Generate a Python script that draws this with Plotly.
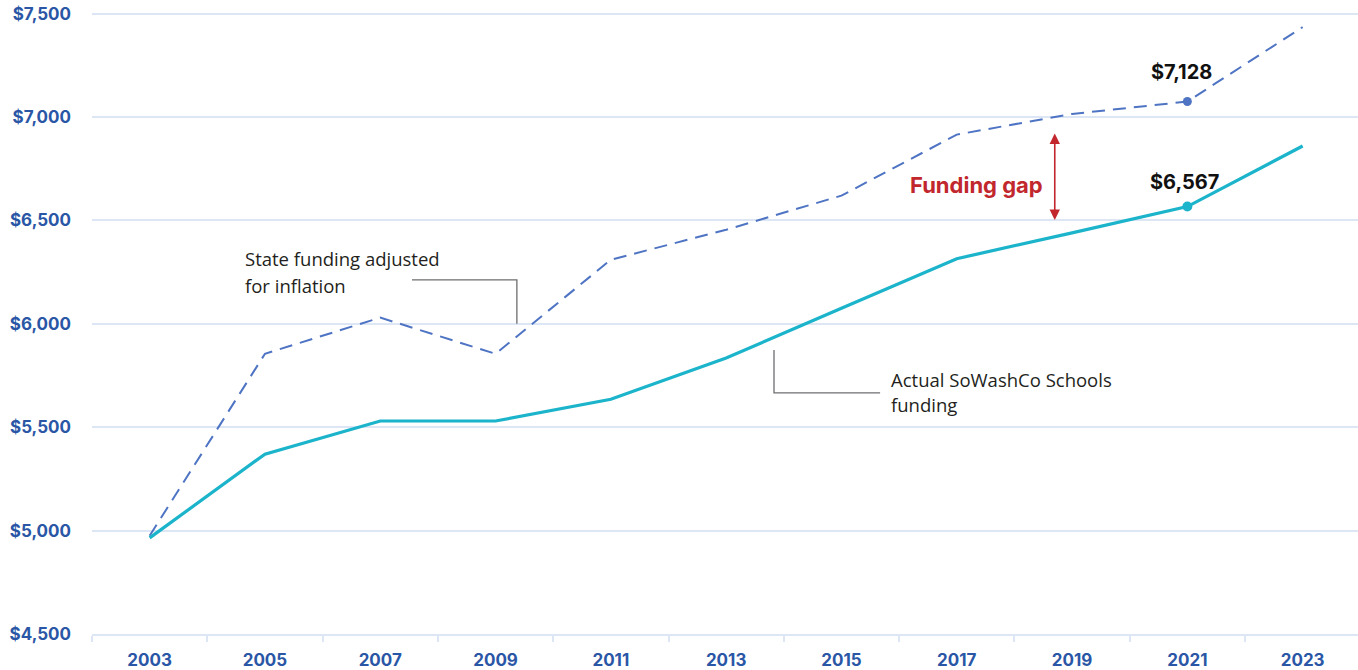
import plotly.graph_objects as go

years = [2003, 2005, 2007, 2009, 2011, 2013, 2015, 2017, 2019, 2021, 2023]
state_adjusted = [4975, 5855, 6030, 5855, 6310, 6455, 6620, 6915, 7015, 7075, 7435]
actual_funding = [4965, 5370, 5530, 5530, 5635, 5835, 6075, 6315, 6440, 6567, 6860]
tick_years = years
y_ticks = [4500, 5000, 5500, 6000, 6500, 7000, 7500]
label_state = "$7,128"
label_actual = "$6,567"

BLUE_TXT = "#2A56A6"
GRID = "#DDE6F4"
DASH_COL = "#4E74C3"
SOLID_COL = "#1BB4CB"
RED = "#C1272D"
DARK = "#231F20"

fig = go.Figure()
fig.add_trace(go.Scatter(x=years, y=state_adjusted, mode="lines",
                         line=dict(color=DASH_COL, width=2, dash="13px,8px"),
                         hoverinfo="skip", showlegend=False))
fig.add_trace(go.Scatter(x=years, y=actual_funding, mode="lines",
                         line=dict(color=SOLID_COL, width=3.2),
                         hoverinfo="skip", showlegend=False))
# highlighted 2021 points
fig.add_trace(go.Scatter(x=[years[9]], y=[state_adjusted[9]], mode="markers",
                         marker=dict(color=DASH_COL, size=9), showlegend=False, hoverinfo="skip"))
fig.add_trace(go.Scatter(x=[years[9]], y=[actual_funding[9]], mode="markers",
                         marker=dict(color=SOLID_COL, size=10), showlegend=False, hoverinfo="skip"))

ann_font = dict(family="Open Sans, sans-serif", size=18.5, color=DARK)
bold_font = dict(family="Inter, sans-serif", size=20, color="#111111", weight="bold")

annotations = [
    dict(x=years[9] - 0.1, y=state_adjusted[9], yshift=30, text=label_state, showarrow=False,
         font=bold_font, xanchor="center", yanchor="middle"),
    dict(x=years[9] - 0.05, y=actual_funding[9], yshift=25, text=label_actual, showarrow=False,
         font=bold_font, xanchor="center", yanchor="middle"),
    dict(x=2004.62, y=6314, text="State funding adjusted", showarrow=False, font=ann_font,
         xanchor="left", yanchor="middle"),
    dict(x=2004.62, y=6183, text="for inflation", showarrow=False, font=ann_font,
         xanchor="left", yanchor="middle"),
    dict(x=2015.82, y=5733, text="Actual SoWashCo Schools", showarrow=False, font=ann_font,
         xanchor="left", yanchor="middle"),
    dict(x=2015.82, y=5612, text="funding", showarrow=False, font=ann_font,
         xanchor="left", yanchor="middle"),
    dict(x=2018.53, y=6672, text="Funding gap", showarrow=False,
         font=dict(family="Inter, sans-serif", size=22, color=RED, weight="bold"),
         xanchor="right", yanchor="middle"),
    dict(x=2018.7, y=6920, ax=2018.7, ay=6495, xref="x", yref="y", axref="x", ayref="y",
         text="", showarrow=True, arrowhead=2, arrowside="end+start", arrowsize=1.3,
         arrowwidth=1.6, arrowcolor=RED),
]

shapes = [
    dict(type="path", path="M 2007.55,6213 L 2009.37,6213 L 2009.37,6000",
         line=dict(color="#6D6E71", width=1.3), xref="x", yref="y"),
    dict(type="path", path="M 2013.83,5874 L 2013.83,5666 L 2015.67,5666",
         line=dict(color="#6D6E71", width=1.3), xref="x", yref="y"),
]

tick_font = dict(family="Inter, sans-serif", size=17, color=BLUE_TXT, weight="bold")

fig.update_layout(
    width=1358, height=670,
    margin=dict(l=92, r=0, t=12, b=36),
    paper_bgcolor="white", plot_bgcolor="white",
    annotations=annotations, shapes=shapes,
    xaxis=dict(range=[2002, 2023.96], tickvals=tick_years, ticktext=[str(y) for y in tick_years],
               showgrid=False, zeroline=False, showline=True, linecolor=GRID, linewidth=2,
               ticks="", tickfont=tick_font, ticklabelstandoff=10, automargin=False,
               ticklabeloverflow="allow",
               minor=dict(tick0=2002, dtick=2, ticks="outside", ticklen=6, tickcolor=GRID,
                          tickwidth=2, showgrid=False)),
    yaxis=dict(range=[4500, 7508], tickvals=y_ticks, tickformat="$,", showgrid=True,
               gridcolor=GRID, gridwidth=2, zeroline=False, showline=False, ticks="",
               tickfont=tick_font, ticklabelstandoff=20, automargin=False,
               ticklabeloverflow="allow"),
)

fig.write_html("out.html", config={"displayModeBar": False},
               post_script="document.body.style.margin='0px';document.body.style.overflow='hidden';")
